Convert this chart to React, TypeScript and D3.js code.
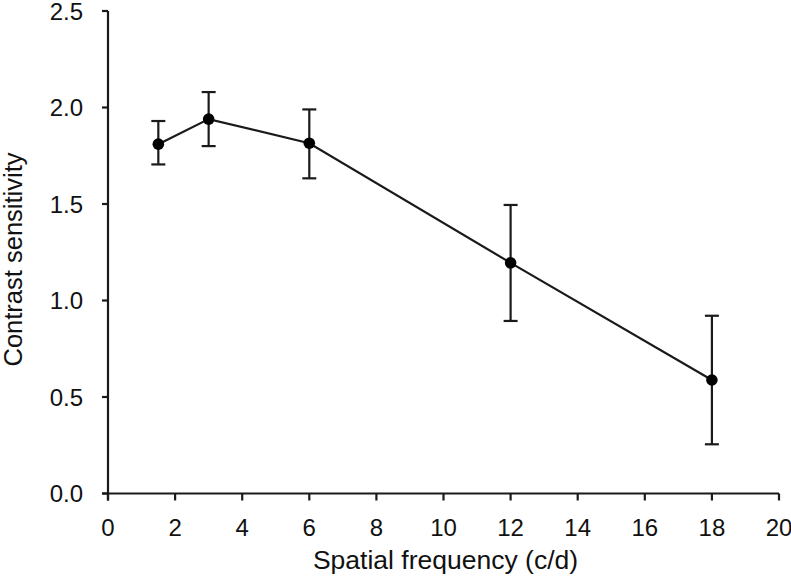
import React from "react";
import * as d3 from "d3";

const frequencies = [1.5, 3, 6, 12, 18];
const sensitivity = [1.81, 1.94, 1.815, 1.195, 0.588];
const upperErr = [1.93, 2.08, 1.99, 1.495, 0.921];
const lowerErr = [1.705, 1.80, 1.633, 0.894, 0.255];
const xTicks = [0, 2, 4, 6, 8, 10, 12, 14, 16, 18, 20];
const yTicks = [0, 0.5, 1.0, 1.5, 2.0, 2.5];
const xTitle = "Spatial frequency (c/d)";
const yTitle = "Contrast sensitivity";

const W = 791;
const H = 583;
const left = 108;
const right = 779;
const top = 11;
const bottom = 493.5;

export default function App() {
  const x = d3.scaleLinear().domain([0, 20]).range([left, right]);
  const y = d3.scaleLinear().domain([0, 2.5]).range([bottom, top]);
  const pts = frequencies.map((f, i) => ({ f, v: sensitivity[i], hi: upperErr[i], lo: lowerErr[i] }));
  const line = d3
    .line<{ f: number; v: number }>()
    .x((d) => x(d.f))
    .y((d) => y(d.v));
  const font = "'Liberation Sans', Arial, sans-serif";
  const stroke = "#1a1a1a";
  const cap = 7;
  const sw = 2.2;
  return (
    <svg
      width={W}
      height={H}
      style={{ position: "absolute", left: 0, top: 0, background: "#fff" }}
      fontFamily={font}
    >
      <rect width={W} height={H} fill="#fff" />
      <line x1={left} x2={left} y1={top} y2={bottom + 7} stroke={stroke} strokeWidth={sw} />
      <line x1={left - 6} x2={right} y1={bottom} y2={bottom} stroke={stroke} strokeWidth={sw} />
      {yTicks.map((t) => (
        <g key={"y" + t}>
          <line x1={left - 6} x2={left} y1={y(t)} y2={y(t)} stroke={stroke} strokeWidth={sw} />
          <text x={83} y={y(t)} dy="0.36em" textAnchor="end" fontSize={24} fill="#111">
            {t.toFixed(1)}
          </text>
        </g>
      ))}
      {xTicks.map((t) => (
        <g key={"x" + t}>
          <line x1={x(t)} x2={x(t)} y1={bottom} y2={bottom + 7} stroke={stroke} strokeWidth={sw} />
          <text x={x(t)} y={536} textAnchor="middle" fontSize={24} fill="#111">
            {t}
          </text>
        </g>
      ))}
      <text x={(left + right) / 2 + 2} y={569} textAnchor="middle" fontSize={26.5} fill="#111">
        {xTitle}
      </text>
      <text
        transform={`translate(22,${259.5}) rotate(-90)`}
        textAnchor="middle"
        fontSize={25.5}
        fill="#111"
      >
        {yTitle}
      </text>
      {pts.map((d, i) => (
        <g key={"e" + i} stroke={stroke} strokeWidth={sw}>
          <line x1={x(d.f)} x2={x(d.f)} y1={y(d.hi)} y2={y(d.lo)} />
          <line x1={x(d.f) - cap} x2={x(d.f) + cap} y1={y(d.hi)} y2={y(d.hi)} />
          <line x1={x(d.f) - cap} x2={x(d.f) + cap} y1={y(d.lo)} y2={y(d.lo)} />
        </g>
      ))}
      <path d={line(pts) || ""} fill="none" stroke={stroke} strokeWidth={sw} />
      {pts.map((d, i) => (
        <circle key={"c" + i} cx={x(d.f)} cy={y(d.v)} r={5.8} fill="#000" />
      ))}
    </svg>
  );
}
